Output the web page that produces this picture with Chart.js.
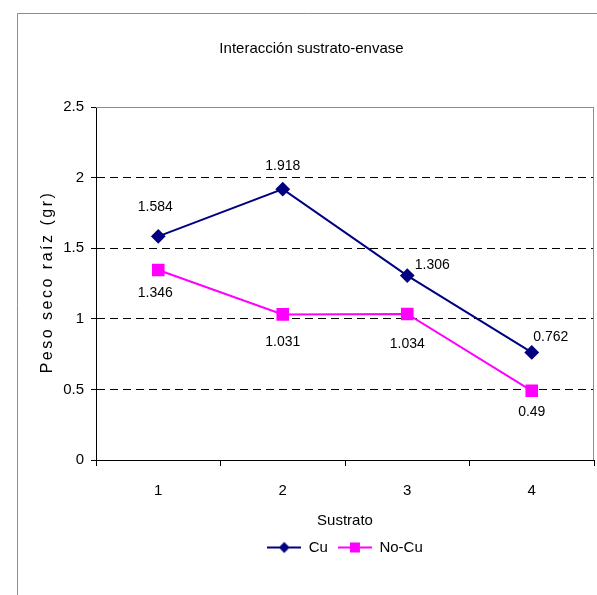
<!DOCTYPE html>
<html>
<head>
<meta charset="utf-8">
<script src="https://cdn.jsdelivr.net/npm/chart.js@4"></script>
<style>
  html, body { margin: 0; padding: 0; background: #fff; }
  #wrap { width: 597px; height: 595px; }
</style>
</head>
<body>
<div id="wrap"><canvas id="grafico"></canvas></div>
<script>
// Datos
const sustratos = ["1", "2", "3", "4"];
const pesoCu = [1.584, 1.918, 1.306, 0.762];
const pesoNoCu = [1.346, 1.031, 1.034, 0.49];
const ticksY = [0, 0.5, 1, 1.5, 2, 2.5];

const fuente = "'Liberation Sans Narrow', 'Liberation Sans', Arial, sans-serif";

// Icono de leyenda: línea con marcador
function iconoLeyenda(color, forma) {
  const c = document.createElement("canvas");
  c.width = 34; c.height = 14;
  const g = c.getContext("2d");
  g.strokeStyle = color; g.lineWidth = 2;
  g.beginPath(); g.moveTo(0, 7); g.lineTo(34, 7); g.stroke();
  g.fillStyle = color;
  g.beginPath();
  if (forma === "rombo") {
    g.moveTo(17, 1.5); g.lineTo(22.5, 7); g.lineTo(17, 12.5); g.lineTo(11.5, 7);
  } else {
    g.rect(12, 2, 10, 10);
  }
  g.closePath(); g.fill();
  return c;
}

// Marco exterior, borde gris del área y título del eje Y (con espaciado)
const marcoPlugin = {
  id: "marco",
  afterDraw(chart) {
    const ctx = chart.ctx, a = chart.chartArea;
    ctx.save();
    ctx.strokeStyle = "#8c8c8c";
    ctx.lineWidth = 1;
    ctx.beginPath();
    ctx.moveTo(17.5, 700); ctx.lineTo(17.5, 13.5); ctx.lineTo(700, 13.5);
    ctx.stroke();
    ctx.beginPath();
    ctx.moveTo(a.left, a.top + 0.5); ctx.lineTo(a.right - 0.5, a.top + 0.5); ctx.lineTo(a.right - 0.5, a.bottom);
    ctx.stroke();

    ctx.translate(48, 282);
    ctx.rotate(-Math.PI / 2);
    ctx.font = "16px 'Liberation Sans', Arial, sans-serif";
    ctx.letterSpacing = "2.5px";
    ctx.fillStyle = "#000";
    ctx.textAlign = "center";
    ctx.textBaseline = "middle";
    ctx.fillText("Peso seco raíz (gr)", 0, 0);
    ctx.restore();
  }
};

// Etiquetas de valores junto a cada punto
const etiquetasPlugin = {
  id: "etiquetas",
  afterDatasetsDraw(chart, args, opts) {
    const ctx = chart.ctx;
    ctx.save();
    ctx.font = "14px " + fuente;
    ctx.fillStyle = "#000";
    ctx.textAlign = "center";
    ctx.textBaseline = "middle";
    chart.data.datasets.forEach((ds, i) => {
      const desp = opts.desplazamientos[i];
      chart.getDatasetMeta(i).data.forEach((p, j) => {
        ctx.fillText(String(ds.data[j]), p.x + desp[j][0], p.y + desp[j][1]);
      });
    });
    ctx.restore();
  }
};

const ctx = document.getElementById("grafico").getContext("2d");
const grafico = new Chart(ctx, {
  type: "line",
  data: {
    labels: sustratos,
    datasets: [
      {
        label: "Cu", data: pesoCu,
        borderColor: "#000080", backgroundColor: "#000080",
        borderWidth: 2, pointStyle: "rectRot", pointRadius: 6,
        pointHoverRadius: 6, tension: 0,
        legendIcon: iconoLeyenda("#000080", "rombo"),
      },
      {
        label: "No-Cu", data: pesoNoCu,
        borderColor: "#ff00ff", backgroundColor: "#ff00ff",
        borderWidth: 2, pointStyle: "rect", pointRadius: 7.5,
        pointHoverRadius: 7.5, tension: 0,
        legendIcon: iconoLeyenda("#ff00ff", "cuadro"),
      },
    ],
  },
  options: {
    responsive: true,
    maintainAspectRatio: false,
    animation: false,
    layout: { autoPadding: false, padding: { left: 29, right: 3, top: 0, bottom: 30 } },
    scales: {
      x: {
        offset: true,
        grid: {
          offset: true, drawOnChartArea: false, drawTicks: true,
          tickLength: 6, tickColor: "#000", tickWidth: 1,
        },
        border: { display: true, color: "#000", width: 1 },
        ticks: { color: "#000", font: { family: fuente, size: 15 }, padding: 16 },
        title: {
          display: true, text: "Sustrato", color: "#000",
          font: { family: fuente, size: 15 }, padding: { top: 0, bottom: 0 },
        },
        afterFit(scale) {
          scale.height = 70;
          scale.paddingLeft = 0;
          scale.paddingRight = 0;
        },
      },
      y: {
        min: 0, max: 2.5,
        afterBuildTicks(scale) { scale.ticks = ticksY.map((v) => ({ value: v })); },
        grid: {
          color: (c) => (c.tick && c.tick.value === 2.5 ? "#8c8c8c" : "#000"),
          drawTicks: true, tickLength: 5, tickColor: "#000", tickWidth: 1,
          tickBorderDash: [],
        },
        border: { display: true, color: "#000", width: 1, dash: [8, 5] },
        ticks: {
          color: "#000", font: { family: fuente, size: 15 }, padding: 7,
          callback: (v) => String(v),
        },
        title: { display: false },
        afterFit(scale) { scale.width = 67; },
      },
    },
    plugins: {
      title: {
        display: true, text: "Interacción sustrato-envase", color: "#000",
        font: { family: fuente, size: 15, weight: "normal" },
        padding: { top: 40, bottom: 49 },
      },
      legend: {
        position: "bottom",
        fullSize: false,
        labels: {
          usePointStyle: true, pointStyleWidth: 34, color: "#000",
          font: { family: fuente, size: 15 }, padding: 10,
          generateLabels(chart) {
            return chart.data.datasets.map((ds, i) => ({
              text: ds.label, pointStyle: ds.legendIcon, fontColor: "#000",
              strokeStyle: ds.borderColor, fillStyle: ds.backgroundColor,
              lineWidth: 0, hidden: false, datasetIndex: i,
            }));
          },
        },
      },
      tooltip: { enabled: false },
      etiquetas: {
        desplazamientos: [
          [[-3, -29], [0, -23], [25, -10], [19, -15]],
          [[-3, 23], [0, 28], [0, 30], [0, 21]],
        ],
      },
    },
  },
  plugins: [marcoPlugin, etiquetasPlugin],
});
</script>
</body>
</html>
